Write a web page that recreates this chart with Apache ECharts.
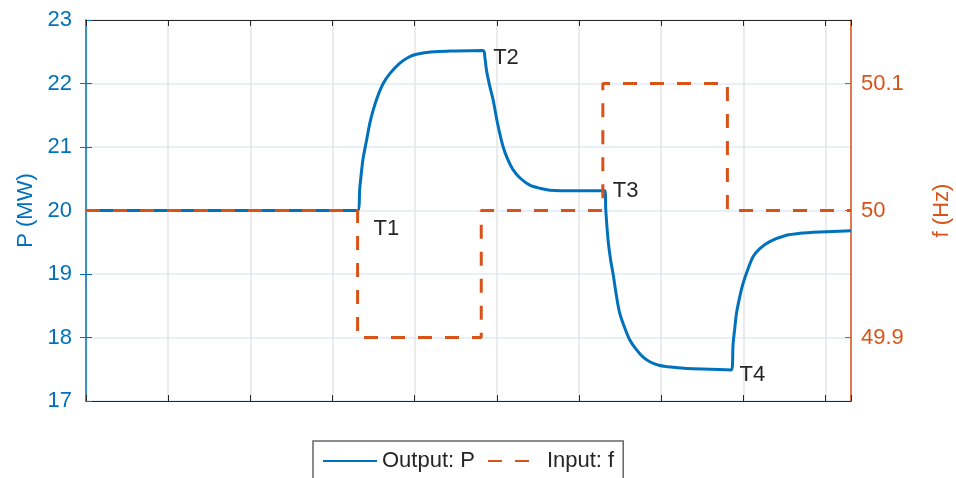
<!DOCTYPE html>
<html>
<head>
<meta charset="utf-8">
<script src="https://cdn.jsdelivr.net/npm/echarts@6/dist/echarts.min.js"></script>
<style>html,body{margin:0;padding:0;background:#fff}#c{width:956px;height:478px}</style>
</head>
<body>
<div id="c"></div>
<script>
// ---- data ----
var timeP = [0, 3.305, 3.333, 3.37, 3.415, 3.455, 3.495, 3.55, 3.617, 3.7, 3.82, 3.92, 4.023, 4.225, 4.428, 4.833,
  4.855, 4.875, 4.915, 4.955, 5.012, 5.077, 5.134, 5.198, 5.292, 5.401, 5.523, 5.645, 5.949, 6.314,
  6.326, 6.354, 6.387, 6.415, 6.455, 6.496, 6.557, 6.618, 6.691, 6.78, 6.873, 6.983, 7.15, 7.308, 7.6, 7.855,
  7.875, 7.896, 7.916, 7.956, 7.996, 8.054, 8.118, 8.2, 8.321, 8.524, 8.686, 8.929, 9.31];
var powerP = [20, 20, 20.37, 20.8, 21.11, 21.38, 21.58, 21.8, 22.0, 22.16, 22.32, 22.41, 22.46, 22.5, 22.51, 22.52,
  22.4, 22.2, 21.95, 21.74, 21.35, 21.0, 20.8, 20.64, 20.5, 20.4, 20.35, 20.32, 20.31, 20.31,
  20.0, 19.53, 19.2, 19.0, 18.66, 18.38, 18.15, 17.96, 17.82, 17.69, 17.61, 17.56, 17.53, 17.51, 17.5, 17.49,
  17.9, 18.15, 18.38, 18.64, 18.85, 19.07, 19.27, 19.4, 19.51, 19.61, 19.64, 19.66, 19.68];
var timeF = [0, 3.305, 3.305, 4.81, 4.81, 6.29, 6.29, 7.806, 7.806, 9.31];
var freqF = [50, 50, 49.9, 49.9, 50, 50, 50.1, 50.1, 50, 50];
var powerTicks = [17, 18, 19, 20, 21, 22, 23];
var freqTicks = [49.9, 50, 50.1];
var annText = ['T1', 'T2', 'T3', 'T4'];
var annTime = [3.305, 4.833, 6.314, 7.855];
var annPower = [20, 22.52, 20.31, 17.49];
var seriesNames = ['Output: P', 'Input: f'];

// ---- chart ----
var BLUE = '#0072BD', ORANGE = '#D95319', DARK = '#262626';
var FONT = "'Liberation Sans', Arial, sans-serif";
var annOffsets = [[16, 18], [10, 7], [8, 0], [8, 5]];

var chart = echarts.init(document.getElementById('c'));
var option = {
  animation: false,
  backgroundColor: '#fff',
  textStyle: { fontFamily: FONT },
  grid: { left: 86, right: 105, top: 20, bottom: 77, outerBoundsMode: 'none', containLabel: false },
  legend: {
    data: seriesNames,
    left: 313, top: 441,
    padding: [9, 9, 9, 9],
    itemGap: 12,
    itemWidth: 54, itemHeight: 14,
    borderColor: '#666', borderWidth: 1.5,
    backgroundColor: '#fff',
    itemStyle: { color: 'rgba(0,0,0,0)', borderWidth: 0, opacity: 0 },
    textStyle: { color: DARK, fontSize: 22, fontFamily: FONT }
  },
  xAxis: [{
    type: 'value', min: 0, max: 9.31, interval: 1,
    axisLine: { show: true, onZero: false, lineStyle: { color: DARK, width: 1.2 } },
    axisTick: { show: true, inside: true, length: 6, lineStyle: { color: DARK } },
    axisLabel: { show: false },
    splitLine: { show: true, lineStyle: { color: '#e4e4e4', width: 1.5 } }
  }, {
    type: 'value', position: 'top', min: 0, max: 9.31, interval: 1,
    axisLine: { show: true, onZero: false, lineStyle: { color: DARK, width: 1.2 } },
    axisTick: { show: true, inside: true, length: 6, lineStyle: { color: DARK } },
    axisLabel: { show: false },
    splitLine: { show: false }
  }],
  yAxis: [{
    type: 'value', position: 'left', min: 17, max: 23,
    axisLine: { show: true, onZero: false, lineStyle: { color: BLUE, width: 1.5 } },
    axisTick: { show: true, inside: true, length: 6, customValues: powerTicks, lineStyle: { color: BLUE } },
    axisLabel: { customValues: powerTicks, color: BLUE, fontSize: 22, fontFamily: FONT, margin: 14 },
    splitLine: { show: true, lineStyle: { color: '#dfeaf5', width: 1.5 } },
    name: 'P (MW)', nameLocation: 'middle', nameGap: 49,
    nameTextStyle: { color: BLUE, fontSize: 22, fontFamily: FONT }
  }, {
    type: 'value', position: 'right', min: 49.85, max: 50.15,
    axisLine: { show: true, onZero: false, lineStyle: { color: ORANGE, width: 1.5 } },
    axisTick: { show: true, inside: true, length: 6, customValues: freqTicks, lineStyle: { color: ORANGE } },
    axisLabel: { customValues: freqTicks, color: ORANGE, fontSize: 22, fontFamily: FONT, margin: 10,
      formatter: function (v) { return String(Math.round(v * 10) / 10); } },
    splitLine: { show: false },
    name: 'f (Hz)', nameLocation: 'middle', nameGap: 80, nameRotate: 90,
    nameTextStyle: { color: ORANGE, fontSize: 22, fontFamily: FONT }
  }, {
    type: 'value', position: 'right', min: 17, max: 23,
    axisLine: { show: false },
    axisTick: { show: true, inside: true, length: 6, customValues: [18, 19, 21, 22], lineStyle: { color: BLUE } },
    axisLabel: { show: false },
    splitLine: { show: false }
  }],
  series: [{
    name: seriesNames[0], type: 'line', xAxisIndex: 0, yAxisIndex: 0,
    data: timeP.map(function (t, i) { return [t, powerP[i]]; }),
    showSymbol: false, symbol: 'none', smooth: 0.3,
    lineStyle: { color: BLUE, width: 3 }, itemStyle: { color: BLUE },
    z: 3,
    markPoint: {
      symbol: 'circle', symbolSize: 0,
      itemStyle: { color: 'rgba(0,0,0,0)' },
      data: annText.map(function (txt, i) {
        return {
          coord: [annTime[i], annPower[i]],
          label: { show: true, formatter: txt, position: 'right', distance: 0,
            offset: annOffsets[i], color: DARK, fontSize: 22, fontFamily: FONT }
        };
      })
    }
  }, {
    name: seriesNames[1], type: 'line', xAxisIndex: 0, yAxisIndex: 1,
    data: timeF.map(function (t, i) { return [t, freqF[i]]; }),
    showSymbol: false, symbol: 'none',
    lineStyle: { color: ORANGE, width: 3, type: [14, 13] }, itemStyle: { color: ORANGE },
    z: 4
  }]
};
chart.setOption(option);
</script>
</body>
</html>
